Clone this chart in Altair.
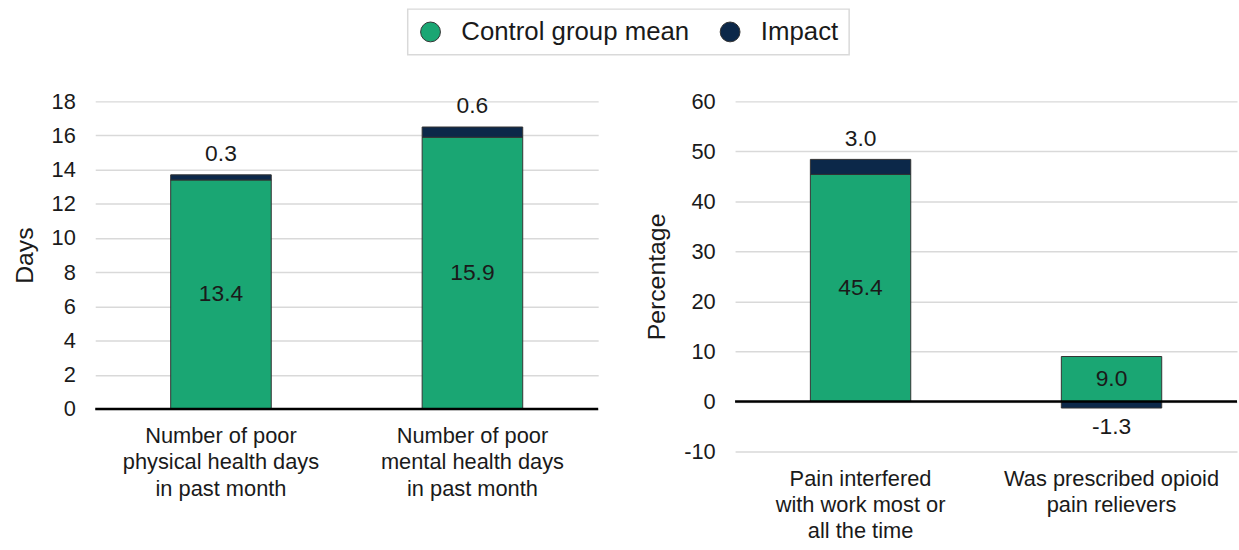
import altair as alt
import pandas as pd

FONT = "Liberation Sans"
TEXT = "#1a1a1a"
MINUS = "\u2212"

# Series shared by both panels
series_names = ["Control group mean", "Impact"]
series_colors = ["#1AA673", "#0C2849"]

# Left panel: days
days_categories = [
    "Number of poor\nphysical health days\nin past month",
    "Number of poor\nmental health days\nin past month",
]
days_control = [13.4, 15.9]
days_impact = [0.3, 0.6]
days_ticks = [0, 2, 4, 6, 8, 10, 12, 14, 16, 18]

# Right panel: percentages
pct_categories = [
    "Pain interfered\nwith work most or\nall the time",
    "Was prescribed opioid\npain relievers",
]
pct_control = [45.4, 9.0]
pct_impact = [3.0, -1.3]
pct_ticks = [-10, 0, 10, 20, 30, 40, 50, 60]


def panel(categories, control, impact, ticks, title, width, height):
    n = len(categories)
    long = pd.DataFrame({
        "category": categories * 2,
        "series": [series_names[0]] * n + [series_names[1]] * n,
        "value": control + impact,
        "ord": [0] * n + [1] * n,
    })
    wide = pd.DataFrame({"category": categories, "control": control, "impact": impact})

    x_scale = alt.Scale(paddingInner=0.6, paddingOuter=0.3)
    x_axis = alt.Axis(
        title=None,
        labelExpr="split(datum.label, '\\n')",
        labelAngle=0,
        domain=False,
        ticks=False,
        grid=False,
        labelPadding=17,
        labelLineHeight=26.5,
        labelFontSize=22,
        labelLimit=0,
        labelColor=TEXT,
        labelFont=FONT,
    )
    y_scale = alt.Scale(domain=[ticks[0], ticks[-1]], nice=False, zero=False)
    y_axis = alt.Axis(
        values=ticks,
        labelExpr=f"replace(datum.label, '{MINUS}', '-')",
        labelOverlap=False,
        title=title,
        titleFontSize=25,
        titleFontWeight="normal",
        titleColor=TEXT,
        titleFont=FONT,
        titlePadding=14,
        labelFontSize=22,
        labelColor=TEXT,
        labelFont=FONT,
        labelPadding=20,
        ticks=False,
        tickSize=0,
        domain=False,
        grid=True,
        gridColor="#d9d9d9",
        gridWidth=1.5,
    )
    x = alt.X("category:N", sort=categories, scale=x_scale, axis=x_axis)

    def y(field):
        return alt.Y(field, scale=y_scale, axis=y_axis)

    bars = alt.Chart(long).mark_bar(stroke="#333333", strokeWidth=1).encode(
        x=x,
        y=alt.Y("value:Q", stack="zero", scale=y_scale, axis=y_axis),
        color=alt.Color(
            "series:N",
            scale=alt.Scale(domain=series_names, range=series_colors),
            legend=alt.Legend(title=None),
        ),
        order=alt.Order("ord:Q"),
    )

    zero_line = alt.Chart(alt.Data(values=[{}])).mark_rule(
        color="black", strokeWidth=2.5
    ).encode(y=alt.Y(datum=0, scale=y_scale, axis=y_axis))

    text_style = dict(font=FONT, fontSize=23, color=TEXT, baseline="middle")
    fmt = lambda field: f"replace(format(datum.{field}, '.1f'), '{MINUS}', '-')"

    control_labels = alt.Chart(wide).transform_calculate(
        pos="datum.control / 2", lab=fmt("control")
    ).mark_text(**text_style).encode(x=x, y=y("pos:Q"), text="lab:N")

    up_labels = alt.Chart(wide).transform_filter("datum.impact >= 0").transform_calculate(
        pos="datum.control + datum.impact", lab=fmt("impact")
    ).mark_text(dy=-21, **text_style).encode(x=x, y=y("pos:Q"), text="lab:N")

    down_labels = alt.Chart(wide).transform_filter("datum.impact < 0").transform_calculate(
        pos="datum.impact", lab=fmt("impact")
    ).mark_text(dy=19, **text_style).encode(x=x, y=y("pos:Q"), text="lab:N")

    return alt.layer(bars, zero_line, control_labels, up_labels, down_labels).properties(
        width=width, height=height
    )


left = panel(days_categories, days_control, days_impact, days_ticks, "Days", 507, 310)
right = panel(pct_categories, pct_control, pct_impact, pct_ticks, "Percentage", 506, 353)

chart = alt.hconcat(left, right, spacing=45).properties(
    padding={"left": 12, "top": 6, "right": 0, "bottom": 0}
).configure(
    font=FONT
).configure_view(
    stroke=None
).configure_legend(
    orient="none",
    legendX=315,
    legendY=-93,
    direction="horizontal",
    symbolType="circle",
    symbolSize=400,
    symbolStrokeWidth=1,
    labelFontSize=26,
    labelFont=FONT,
    labelColor=TEXT,
    labelLimit=0,
    labelOffset=18,
    columnPadding=28,
    padding=10,
    strokeColor="#d9d9d9",
    strokeWidth=1.5,
)

chart.save("out.html", embed_options={"renderer": "svg", "actions": False})
